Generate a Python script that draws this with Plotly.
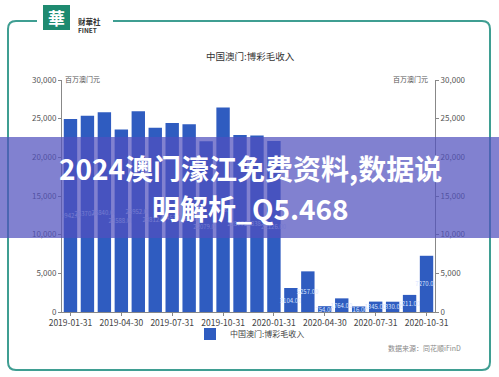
import plotly.graph_objects as go

# ---------------- data ----------------
months = ["2019-01-31", "2019-02-28", "2019-03-31", "2019-04-30", "2019-05-31", "2019-06-30",
          "2019-07-31", "2019-08-31", "2019-09-30", "2019-10-31", "2019-11-30", "2019-12-31",
          "2020-01-31", "2020-02-29", "2020-03-31", "2020-04-30", "2020-05-31", "2020-06-30",
          "2020-07-31", "2020-08-31", "2020-09-30", "2020-10-31"]
ggr = [24942, 25370, 25840, 23588, 25952, 23812, 24453, 24262, 22079, 26443, 22877, 22838,
       22126, 3104, 5257, 754, 1764, 716, 1345, 1330, 2211, 7270]
x_ticks = ["2019-01-31", "2019-04-30", "2019-07-31", "2019-10-31",
           "2020-01-31", "2020-04-30", "2020-07-31", "2020-10-31"]
y_ticks = [0, 5000, 10000, 15000, 20000, 25000, 30000]
y_tick_text = ["0", "5,000", "10,000", "15,000", "20,000", "25,000", "30,000"]
series_name = "中国澳门:博彩毛收入"
chart_title = "中国澳门:博彩毛收入"
unit_label = "百万澳门元"
source_text = "数据来源：同花顺iFinD"
overlay_line1 = "2024澳门濠江免费资料,数据说"
overlay_line2 = "明解析_Q5.468"

# ---------------- geometry helpers (pixel -> paper) ----------------
W, H = 499, 377
L, R, T, B = 62, 435, 80, 312
def px(x):
    return (x - L) / (R - L)
def py(y):
    return (B - y) / (B - T)

FONT = "Noto Sans CJK SC"
BAR = "#2f5cc0"

fig = go.Figure()
fig.add_trace(go.Bar(
    x=months, y=ggr, name=series_name,
    marker=dict(color=BAR, line=dict(width=0)),
    text=[f"{v:.2f}" for v in ggr],
    textposition="inside", insidetextanchor="middle", textangle=0,
    constraintext="none",
    textfont=dict(size=6, color="#d8e4ff", family=FONT),
    hoverinfo="skip",
))
fig.add_trace(go.Scatter(x=[months[0]], y=[None], yaxis="y2", showlegend=False,
                         hoverinfo="skip", mode="markers"))

axis_font = dict(size=8, color="#555", family=FONT)
fig.update_layout(
    width=W, height=H,
    margin=dict(l=L, r=W - R, t=T, b=H - B),
    paper_bgcolor="white", plot_bgcolor="white",
    bargap=0.21,
    font=dict(family=FONT),
    xaxis=dict(type="category", range=[-0.5, len(months) - 0.5],
               tickmode="array", tickvals=x_ticks, ticktext=x_ticks,
               ticks="outside", ticklen=3, tickcolor="#888",
               showline=True, linecolor="#888", linewidth=1,
               showgrid=False, tickfont=dict(size=8.5, color="#444", family=FONT)),
    yaxis=dict(range=[0, 30000], tickmode="array", tickvals=y_ticks, ticktext=y_tick_text,
               ticks="outside", ticklen=3, tickcolor="#888",
               showline=True, linecolor="#888", linewidth=1,
               showgrid=False, zeroline=False, tickfont=axis_font),
    yaxis2=dict(range=[0, 30000], overlaying="y", side="right",
                tickmode="array", tickvals=y_ticks, ticktext=y_tick_text,
                ticks="outside", ticklen=3, tickcolor="#888",
                showline=True, linecolor="#888", linewidth=1,
                showgrid=False, zeroline=False, tickfont=axis_font),
    showlegend=True,
    legend=dict(orientation="h", x=px(250), xanchor="center", y=py(334), yanchor="middle",
                font=dict(size=8, color="#444", family=FONT), bgcolor="rgba(0,0,0,0)",
                itemwidth=30),
)

shapes = []
# rounded frame with gap for logo
r = 8
x0, x1, y0, y1 = 8, 490, 21, 370
def P(x, y):
    return f"{px(x):.5f},{py(y):.5f}"
path = (f"M {P(113, y0)} L {P(x1 - r, y0)} Q {P(x1, y0)} {P(x1, y0 + r)} "
        f"L {P(x1, y1 - r)} Q {P(x1, y1)} {P(x1 - r, y1)} "
        f"L {P(x0 + r, y1)} Q {P(x0, y1)} {P(x0, y1 - r)} "
        f"L {P(x0, y0 + r)} Q {P(x0, y0)} {P(x0 + r, y0)} L {P(37, y0)}")
shapes.append(dict(type="path", path=path, xref="paper", yref="paper",
                   line=dict(color="#3f9e92", width=2), layer="below"))
# logo square
shapes.append(dict(type="rect", xref="paper", yref="paper",
                   x0=px(43), x1=px(70), y0=py(30), y1=py(5),
                   fillcolor="#1e8a70", line=dict(width=0), layer="below"))
# overlay band
shapes.append(dict(type="rect", xref="paper", yref="paper",
                   x0=px(-5), x1=px(505), y0=py(238), y1=py(137),
                   fillcolor="rgba(80,80,190,0.72)", line=dict(width=0), layer="above"))
fig.update_layout(shapes=shapes)

ann = []
ann.append(dict(text=chart_title, x=px(250), y=py(47), xref="paper", yref="paper",
                showarrow=False, font=dict(size=9.5, color="#333", family=FONT)))
ann.append(dict(text=unit_label, x=px(63), y=py(72), xref="paper", yref="paper",
                showarrow=False, font=dict(size=7, color="#555", family=FONT)))
ann.append(dict(text=unit_label, x=px(430), y=py(72), xref="paper", yref="paper",
                showarrow=False, font=dict(size=7, color="#555", family=FONT)))
ann.append(dict(text=source_text, x=px(463), y=py(355), xref="paper", yref="paper",
                xanchor="right", showarrow=False, font=dict(size=7, color="#888", family=FONT)))
ann.append(dict(text="<b>華</b>", x=px(56.5), y=py(17.5), xref="paper", yref="paper",
                xanchor="center", yanchor="middle",
                showarrow=False, font=dict(size=17, color="white", family=FONT)))
ann.append(dict(text="<b>财華社</b>", x=px(76), y=py(13.5), xref="paper", yref="paper",
                xanchor="left", showarrow=False, font=dict(size=7.5, color="#333", family=FONT)))
ann.append(dict(text="<b>FINET</b>", x=px(76), y=py(22.5), xref="paper", yref="paper",
                xanchor="left", showarrow=False, font=dict(size=6.5, color="#333", family=FONT)))
ann.append(dict(text=f"<b>{overlay_line1}</b>", x=px(250), y=py(168), xref="paper", yref="paper",
                showarrow=False, font=dict(size=28, color="white", family=FONT)))
ann.append(dict(text=f"<b>{overlay_line2}</b>", x=px(250), y=py(208), xref="paper", yref="paper",
                showarrow=False, font=dict(size=28, color="white", family=FONT)))
fig.update_layout(annotations=ann)

fig.write_html("out.html", config={"displayModeBar": False},
               post_script="document.body.style.margin='0';document.body.style.overflow='hidden';")
